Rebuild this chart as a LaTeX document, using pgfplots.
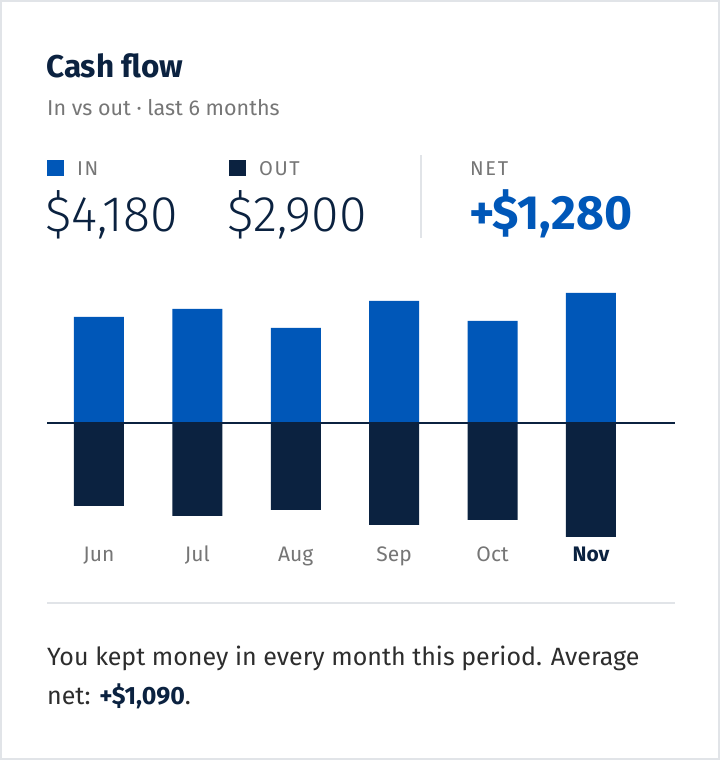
\documentclass[border=0pt]{standalone}
\usepackage{pgfplots}
\pgfplotsset{compat=1.18}
\usepackage{fontspec}
\setmainfont{Fira Sans}
\newfontfamily\lightfont{Fira Sans Light}
\newfontfamily\capsfont{Fira Sans}[LetterSpace=8]
\definecolor{navy}{HTML}{0B2240}
\definecolor{cblue}{HTML}{0057B8}
\definecolor{subgray}{HTML}{767676}
\definecolor{linegray}{HTML}{E1E4E8}
\definecolor{bodytext}{HTML}{2D2D2D}
\begin{document}
\begin{tikzpicture}[x=1pt,y=1pt]
\useasboundingbox (0,0) rectangle (720,760);
\fill[linegray] (0,0) rectangle (720,760);
\fill[white] (2,2) rectangle (718,758);
% header
\node[anchor=base west,inner sep=0,text=navy,font=\fontsize{31.5}{36}\selectfont\bfseries] at (46,682) {Cash flow};
\node[anchor=base west,inner sep=0,text=subgray,font=\fontsize{21.5}{25}\selectfont] at (47,644) {In vs out · last 6 months};
\fill[cblue] (47,584) rectangle (64,600);
\fill[navy] (229,584) rectangle (246,600);
\node[anchor=base west,inner sep=0,text=subgray,font=\fontsize{20}{24}\capsfont] at (77,584) {IN};
\node[anchor=base west,inner sep=0,text=subgray,font=\fontsize{20}{24}\capsfont] at (259,584) {OUT};
\node[anchor=base west,inner sep=0,text=subgray,font=\fontsize{20}{24}\capsfont] at (470,584) {NET};
\node[anchor=base west,inner sep=0,text=navy,font=\fontsize{50}{56}\lightfont] at (45,528) {\$4,180};
\node[anchor=base west,inner sep=0,text=navy,font=\fontsize{50}{56}\lightfont] at (227,528) {\$2,900};
\node[anchor=base west,inner sep=0,text=cblue,font=\fontsize{48}{54}\selectfont\bfseries] at (469,530) {+\$1,280};
\draw[linegray,line width=1.5pt] (421,522) -- (421,605);
% chart
\begin{axis}[
  at={(47pt,218.87pt)}, anchor=south west,
  scale only axis, width=628pt, height=258.13pt,
  xmin=-0.528, xmax=5.854, ymin=-3800, ymax=4500,
  axis line style={draw=none}, major tick length=0pt,
  ytick=\empty,
  xtick={0,1,2,3,4,5},
  xticklabels={Jun,Jul,Aug,Sep,Oct,{\bfseries\color{navy}Nov}},
  xticklabel style={anchor=base, yshift=-20pt, text=subgray, font=\fontsize{21}{25}\selectfont},
  clip=false,
]
\addplot[ybar, bar width=50pt, bar shift=0pt, fill=cblue, draw=none] coordinates {(0,3408) (1,3665) (2,3055) (3,3923) (4,3280) (5,4180)};
\addplot[ybar, bar width=50pt, bar shift=0pt, fill=navy, draw=none] coordinates {(0,-2669) (1,-2990) (2,-2797) (3,-3280) (4,-3119) (5,-3666)};
\draw[navy, line width=1.3pt] (axis cs:-0.528,0) -- (axis cs:5.854,0);
\end{axis}
\draw[linegray,line width=1.5pt] (47,157) -- (675,157);
\node[anchor=base west,inner sep=0,text=bodytext,font=\fontsize{25}{29}\selectfont] at (47,94) {You kept money in every month this period. Average};
\node[anchor=base west,inner sep=0,text=bodytext,font=\fontsize{25}{29}\selectfont] at (47,55) {net: {\bfseries\color{navy}+\$1,090}.};
\end{tikzpicture}
\end{document}
